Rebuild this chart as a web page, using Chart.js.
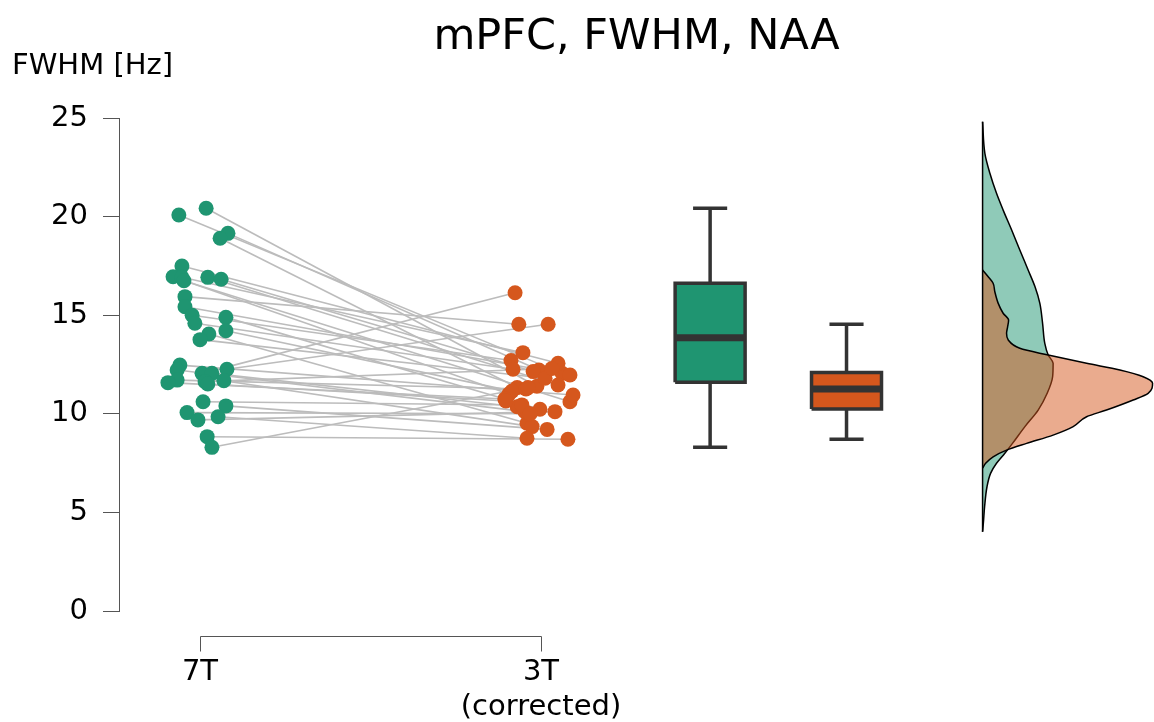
<!DOCTYPE html>
<html><head><meta charset="utf-8">
<script src="https://cdn.jsdelivr.net/npm/chart.js@4.4.1/dist/chart.umd.min.js"></script>
<style>html,body{margin:0;padding:0;background:#fff}</style>
</head><body>
<canvas id="c" width="1154" height="722"></canvas>
<script>
// ---------- data ----------
const categories = ['7T', ['3T', '(corrected)']];
const yTicks = [0, 5, 10, 15, 20, 25];

// paired observations (index i of 7T is paired with index i of 3T)
const values7T = [20.42, 20.08, 19.15, 18.90, 17.49, 16.95, 16.92, 16.92, 16.82, 16.75,
                  15.94, 15.43, 15.00, 14.89, 14.59, 14.21, 14.05, 13.76, 12.47, 12.26,
                  12.22, 12.05, 12.05, 11.71, 11.68, 11.63, 11.58, 11.51, 10.61, 10.40,
                  10.06, 9.85, 9.69, 8.84, 8.30];
const values3T = [11.40, 12.05, 12.22, 11.33, 12.56, 11.00, 13.10, 11.46, 12.14, 10.61,
                  14.54, 11.97, 12.70, 10.23, 12.26, 11.15, 9.52, 11.80, 10.95, 14.54,
                  10.11, 16.14, 10.36, 11.26, 9.35, 12.30, 10.75, 10.65, 10.45, 9.21,
                  10.00, 8.76, 10.11, 8.71, 11.33];
// horizontal jitter of each point (category units)
const jitter7T = [0.018, -0.062, 0.082, 0.059, -0.053, -0.079, -0.053, 0.023, 0.062, -0.047,
                  -0.044, -0.044, -0.023, 0.076, -0.015, 0.076, 0.026, 0.000, -0.059, 0.079,
                  -0.067, 0.006, 0.035, -0.067, 0.070, 0.015, -0.094, 0.023, 0.009, 0.076,
                  -0.038, 0.053, -0.006, 0.021, 0.035];
const jitter3T = [-0.012, 0.062, -0.006, -0.070, 0.050, -0.094, -0.053, 0.050, -0.023, 0.085,
                  -0.065, 0.085, -0.088, -0.003, -0.082, -0.085, -0.041, 0.012, 0.094, 0.021,
                  -0.047, -0.076, -0.070, -0.044, -0.026, 0.032, -0.106, -0.103, -0.056, 0.018,
                  -0.032, -0.041, 0.041, 0.079, -0.038];

// box plot statistics: [min, q1, median, q3, max]
const box7T = [8.30, 11.60, 13.86, 16.62, 20.42];
const box3T = [8.71, 10.24, 11.26, 12.10, 14.54];

// density curves (relative density, 3T peak = 1)
const densityLevels7T = [4.02, 4.5, 5.3, 6.3, 6.98, 7.49, 8.0, 8.5, 9.35, 10.19, 11.04, 11.88, 12.56,
                         12.98, 13.57, 14.59, 15.6, 16.45, 17.29, 18.31, 19.32, 20.33, 21.18, 22.2, 23.21, 24.81];
const density7T =       [0, 0.005, 0.012, 0.026, 0.047, 0.082, 0.131, 0.176, 0.249, 0.327, 0.380, 0.412, 0.415,
                         0.386, 0.366, 0.353, 0.337, 0.308, 0.268, 0.219, 0.171, 0.121, 0.082, 0.043, 0.0135, 0];
const densityLevels3T = [7.24, 7.49, 7.82, 8.16, 8.5, 8.92, 9.35, 9.85, 10.19, 10.7, 11.04, 11.55, 11.88,
                         12.22, 12.56, 12.98, 13.32, 13.74, 14.08, 14.4, 14.75, 15.1, 15.6, 16.19, 16.62, 16.95, 17.29];
const density3T =       [0, 0.018, 0.062, 0.141, 0.259, 0.415, 0.533, 0.612, 0.729, 0.886, 0.974, 1.0, 0.945,
                         0.808, 0.612, 0.386, 0.219, 0.151, 0.141, 0.147, 0.153, 0.121, 0.092, 0.072, 0.062, 0.033, 0];

// ---------- layout / style constants ----------
const X7 = 1, X3 = 2;
const BOX7_X = 2.496, BOX3_X = 2.896, BOX_HALF = 0.1026, CAP_HALF = 0.05;
const DENS_BASE = 3.295, DENS_SCALE = 0.4985;
const GREEN = '#1f9571', ORANGE = '#d5571d', DARK = '#333333';
const GREEN_A = 'rgba(31,149,113,0.5)', ORANGE_A = 'rgba(213,87,29,0.5)';
const FONT = "'DejaVu Sans', sans-serif";

function seg(p, opts) {
  return Object.assign({type: 'line', data: p, pointRadius: 0, pointHoverRadius: 0, fill: false,
    borderColor: DARK, borderWidth: 3.5, tension: 0}, opts);
}

const datasets = [];
// points
datasets.push({type: 'scatter', data: values7T.map((v, i) => ({x: X7 + jitter7T[i], y: v})),
  backgroundColor: GREEN, borderWidth: 0, pointRadius: 7.5, order: 0});
datasets.push({type: 'scatter', data: values3T.map((v, i) => ({x: X3 + jitter3T[i], y: v})),
  backgroundColor: ORANGE, borderWidth: 0, pointRadius: 7.5, order: 0});
// pair lines
values7T.forEach((v, i) => {
  datasets.push(seg([{x: X7 + jitter7T[i], y: v}, {x: X3 + jitter3T[i], y: values3T[i]}],
    {borderColor: '#bcbcbc', borderWidth: 1.6, order: 20}));
});
// box plots
[[box7T, BOX7_X, GREEN], [box3T, BOX3_X, ORANGE]].forEach(([b, c, col]) => {
  const [mn, q1, md, q3, mx] = b;
  const x1 = c - BOX_HALF, x2 = c + BOX_HALF;
  datasets.push(seg([{x: x1, y: q3}, {x: x2, y: q3}], {borderWidth: 0, backgroundColor: col, fill: {value: q1}, order: 8}));
  datasets.push(seg([{x: x1, y: q1}, {x: x1, y: q3}, {x: x2, y: q3}, {x: x2, y: q1}, {x: x1, y: q1}],
    {borderWidth: 3.5, borderJoinStyle: 'miter', order: 6}));
  datasets.push(seg([{x: x1, y: md}, {x: x2, y: md}], {borderWidth: 7, order: 5}));
  datasets.push(seg([{x: c, y: q3}, {x: c, y: mx}], {order: 6}));
  datasets.push(seg([{x: c, y: mn}, {x: c, y: q1}], {order: 6}));
  datasets.push(seg([{x: c - CAP_HALF, y: mx}, {x: c + CAP_HALF, y: mx}], {order: 6}));
  datasets.push(seg([{x: c - CAP_HALF, y: mn}, {x: c + CAP_HALF, y: mn}], {order: 6}));
});
// densities
[[densityLevels7T, density7T, GREEN_A, 3], [densityLevels3T, density3T, ORANGE_A, 2]].forEach(([lv, d, col, ord]) => {
  datasets.push({type: 'line', indexAxis: 'y', data: lv.map((v, i) => ({x: DENS_BASE + d[i] * DENS_SCALE, y: v})),
    backgroundColor: col, borderColor: '#000', borderWidth: 1.5, pointRadius: 0, pointHoverRadius: 0,
    fill: {value: DENS_BASE}, tension: 0.4, cubicInterpolationMode: 'monotone', order: ord, clip: false});
});
datasets.push(seg([{x: DENS_BASE, y: densityLevels7T[0]}, {x: DENS_BASE, y: densityLevels7T[densityLevels7T.length - 1]}],
  {borderColor: '#000', borderWidth: 1.5, order: 1}));

const bracketPlugin = {
  id: 'bracket',
  afterDraw(chart) {
    const {ctx, chartArea, scales: {x}} = chart;
    const y0 = Math.round(chartArea.bottom + 25) + 0.5;
    const x1 = Math.round(x.getPixelForValue(X7)) + 0.5, x2 = Math.round(x.getPixelForValue(X3)) + 0.5;
    ctx.save();
    ctx.strokeStyle = '#555'; ctx.lineWidth = 1;
    ctx.beginPath();
    ctx.moveTo(x1, y0 + 15); ctx.lineTo(x1, y0); ctx.lineTo(x2, y0); ctx.lineTo(x2, y0 + 15);
    ctx.stroke();
    ctx.restore();
  }
};

new Chart(document.getElementById('c'), {
  type: 'scatter',
  data: {datasets},
  plugins: [bracketPlugin],
  options: {
    responsive: false, animation: false, devicePixelRatio: 1,
    layout: {autoPadding: false, padding: {left: 12, top: 20.8, right: 0, bottom: 0}},
    plugins: {
      legend: {display: false}, tooltip: {enabled: false},
      title: {display: true, text: 'mPFC, FWHM, NAA', fullSize: false, color: '#000',
        font: {family: FONT, size: 43, weight: 'normal', lineHeight: 0.8}, padding: {top: 0, bottom: 0}},
      subtitle: {display: true, text: 'FWHM [Hz]', align: 'start', fullSize: true, color: '#000',
        font: {family: FONT, size: 29, weight: 'normal', lineHeight: 0.8}, padding: {top: 0, bottom: 39.6}}
    },
    scales: {
      x: {type: 'linear', min: 0.7625, max: 3.7977,
        afterBuildTicks: s => { s.ticks = [{value: X7}, {value: X3}]; },
        afterFit: s => { s.height = 111; },
        grid: {display: false, drawTicks: false}, border: {display: false},
        ticks: {padding: 44, color: '#000', font: {family: FONT, size: 29},
          maxRotation: 0, autoSkip: false, callback: (v, i) => categories[i]}},
      y: {type: 'linear', min: 0, max: 25,
        afterBuildTicks: s => { s.ticks = yTicks.map(v => ({value: v})); },
        afterFit: s => { s.width = 107; },
        grid: {drawOnChartArea: false, drawTicks: true, tickLength: 16, color: '#555', lineWidth: 1},
        border: {display: true, color: '#555', width: 1},
        ticks: {padding: 15, color: '#000', font: {family: FONT, size: 29}}}
    }
  }
});
</script>
</body></html>
